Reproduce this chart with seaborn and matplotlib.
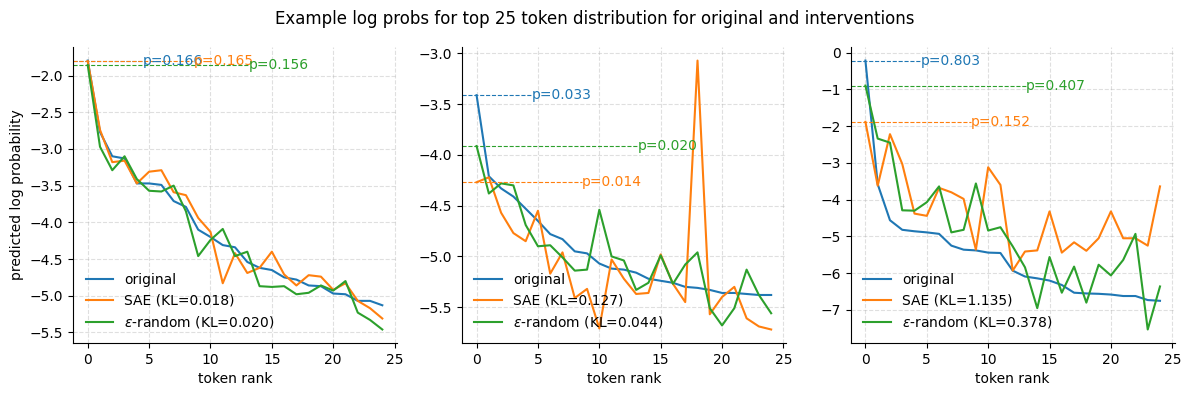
import numpy as np
import pandas as pd
import matplotlib
matplotlib.use("Agg")
import matplotlib.pyplot as plt
import seaborn as sns

ranks = list(range(25))

# Panel 1
p1_original = [-1.796, -2.77, -3.10, -3.13, -3.47, -3.47, -3.49, -3.71, -3.79, -4.10, -4.20, -4.31, -4.34,
               -4.54, -4.62, -4.65, -4.75, -4.78, -4.86, -4.87, -4.97, -4.98, -5.07, -5.07, -5.13]
p1_sae = [-1.802, -2.74, -3.18, -3.16, -3.47, -3.31, -3.29, -3.59, -3.63, -3.94, -4.13, -4.83, -4.42,
          -4.69, -4.62, -4.40, -4.71, -4.86, -4.72, -4.74, -4.92, -4.83, -5.07, -5.17, -5.31]
p1_rand = [-1.858, -2.97, -3.29, -3.10, -3.41, -3.57, -3.58, -3.50, -3.85, -4.46, -4.24, -4.09, -4.46,
           -4.40, -4.87, -4.88, -4.87, -4.98, -4.96, -4.86, -4.93, -4.80, -5.23, -5.33, -5.46]

# Panel 2
p2_original = [-3.411, -4.21, -4.33, -4.41, -4.53, -4.65, -4.78, -4.83, -4.95, -4.97, -5.07, -5.12, -5.13,
               -5.16, -5.22, -5.24, -5.26, -5.30, -5.31, -5.33, -5.36, -5.36, -5.37, -5.38, -5.38]
p2_sae = [-4.269, -4.22, -4.57, -4.77, -4.85, -4.55, -5.17, -4.96, -5.41, -5.32, -5.71, -5.03, -5.22,
          -5.37, -5.36, -4.98, -5.27, -5.45, -3.07, -5.57, -5.40, -5.30, -5.61, -5.69, -5.72]
p2_rand = [-3.912, -4.38, -4.28, -4.30, -4.69, -4.90, -4.89, -5.01, -5.14, -5.13, -4.54, -5.00, -5.04,
           -5.33, -5.26, -4.99, -5.27, -5.08, -4.96, -5.51, -5.68, -5.51, -5.13, -5.38, -5.56]

# Panel 3
p3_original = [-0.219, -3.58, -4.56, -4.82, -4.86, -4.89, -4.93, -5.25, -5.36, -5.38, -5.44, -5.45, -5.93,
               -6.09, -6.14, -6.20, -6.32, -6.53, -6.55, -6.56, -6.58, -6.62, -6.62, -6.73, -6.75]
p3_sae = [-1.884, -3.62, -2.22, -3.03, -4.38, -4.44, -3.68, -3.80, -3.98, -5.36, -3.12, -3.60, -5.93,
          -5.41, -5.38, -4.32, -5.44, -5.16, -5.39, -5.05, -4.32, -5.05, -5.05, -5.25, -3.64]
p3_rand = [-0.899, -2.34, -2.45, -4.29, -4.30, -4.07, -3.64, -4.89, -4.82, -3.56, -4.84, -4.75, -5.27,
           -5.84, -6.95, -5.56, -6.53, -5.82, -6.80, -5.77, -6.06, -5.64, -4.93, -7.53, -6.36]

sae_kl = ["0.018", "0.127", "1.135"]
rand_kl = ["0.020", "0.044", "0.378"]
top_probs_orig = ["0.166", "0.033", "0.803"]
top_probs_sae = ["0.165", "0.014", "0.152"]
top_probs_rand = ["0.156", "0.020", "0.407"]

panels = [
    (p1_original, p1_sae, p1_rand),
    (p2_original, p2_sae, p2_rand),
    (p3_original, p3_sae, p3_rand),
]

plt.rcParams['font.family'] = ['DejaVu Sans']

colors = ["#1f77b4", "#ff7f0e", "#2ca02c"]
text_x = [4.5, 8.6, 13.1]

fig, axes = plt.subplots(1, 3, figsize=(11.89, 3.96), dpi=100)
for k, (ax, series) in enumerate(zip(axes, panels)):
    labels = ["original", f"SAE (KL={sae_kl[k]})", f"$\\epsilon$-random (KL={rand_kl[k]})"]
    probs = [top_probs_orig[k], top_probs_sae[k], top_probs_rand[k]]
    for j, (vals, lab) in enumerate(zip(series, labels)):
        df = pd.DataFrame({"rank": ranks, "logp": vals})
        sns.lineplot(data=df, x="rank", y="logp", ax=ax, color=colors[j], label=lab, linewidth=1.5)
    ax.set_xlim(-1.2, 25.2)
    x0, x1 = ax.get_xlim()
    for j, vals in enumerate(series):
        frac = (text_x[j] - x0) / (x1 - x0)
        ax.axhline(vals[0], xmin=0, xmax=frac, color=colors[j], linestyle="--", linewidth=0.8)
        ax.text(text_x[j], vals[0], f"p={probs[j]}", color=colors[j], fontsize=10, va="center", ha="left")
    ax.grid(True, linestyle="--", alpha=0.4)
    ax.set_xlabel("token rank")
    ax.set_ylabel("predicted log probability" if k == 0 else "")
    ax.set_xticks([0, 5, 10, 15, 20, 25])
    ax.legend(loc="lower left", frameon=False)
    sns.despine(ax=ax)

fig.suptitle("Example log probs for top 25 token distribution for original and interventions", fontsize=12, y=0.975)
fig.subplots_adjust(left=0.0614, right=0.988, top=0.881, bottom=0.134, wspace=0.2)
fig.savefig("out.png", dpi=100)
